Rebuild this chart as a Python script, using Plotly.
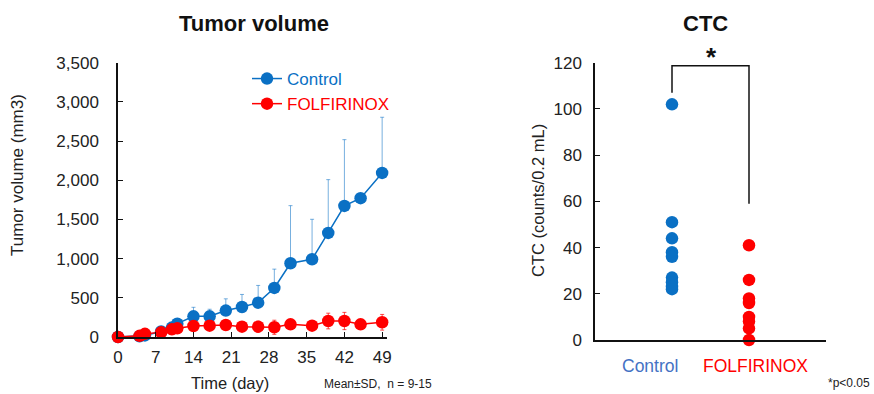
import plotly.graph_objects as go

# ---- Tumor volume data ----
days = [0, 4, 5, 8, 10, 11, 14, 17, 20, 23, 26, 29, 32, 36, 39, 42, 45, 49]
control_vol = [0, 10, 20, 70, 120, 170, 264, 264, 337, 383, 438, 626, 941, 992, 1328, 1673, 1771, 2094]
control_sd = [0, 5, 10, 20, 30, 40, 115, 90, 150, 160, 220, 240, 735, 510, 680, 845, 30, 710]
folf_vol = [0, 15, 40, 60, 98, 111, 140, 145, 153, 132, 132, 124, 162, 145, 204, 204, 162, 188]
folf_sd = [0, 10, 15, 20, 20, 25, 35, 30, 35, 30, 70, 90, 60, 30, 100, 110, 30, 100]
x_ticks = [0, 7, 14, 21, 28, 35, 42, 49]
y_ticks_vol = [0, 500, 1000, 1500, 2000, 2500, 3000, 3500]

# ---- CTC data ----
groups = ["Control", "FOLFIRINOX"]
ctc_control = [102, 51, 44, 38, 36, 27, 25, 23, 22]
ctc_folf = [41, 26, 18, 16, 10, 8, 5, 0]
y_ticks_ctc = [0, 20, 40, 60, 80, 100, 120]

BLUE = "#0A70C4"
RED = "#FF0000"
FONT = "Arial, Liberation Sans, sans-serif"
W, H = 874, 394

fig = go.Figure()

fig.add_trace(go.Scatter(
    x=days, y=control_vol, mode="lines+markers",
    name="<span style='color:%s'>Control</span>" % BLUE,
    line=dict(color=BLUE, width=1.5),
    marker=dict(color=BLUE, size=12.5),
    error_y=dict(type="data", array=control_sd, arrayminus=[0] * len(days),
                 color="rgba(10,112,196,0.55)", thickness=1, width=2),
    cliponaxis=False, xaxis="x", yaxis="y",
))
fig.add_trace(go.Scatter(
    x=days, y=folf_vol, mode="lines+markers",
    name="<span style='color:%s'>FOLFIRINOX</span>" % RED,
    line=dict(color=RED, width=1.5),
    marker=dict(color=RED, size=12.5),
    error_y=dict(type="data", array=folf_sd, color="rgba(255,0,0,0.7)",
                 thickness=1, width=2),
    cliponaxis=False, xaxis="x", yaxis="y",
))

fig.add_trace(go.Scatter(
    x=[groups[0]] * len(ctc_control), y=ctc_control, mode="markers",
    marker=dict(color=BLUE, size=12.5), showlegend=False, cliponaxis=False,
    xaxis="x2", yaxis="y2",
))
fig.add_trace(go.Scatter(
    x=[groups[1]] * len(ctc_folf), y=ctc_folf, mode="markers",
    marker=dict(color=RED, size=12.5), showlegend=False, cliponaxis=False,
    xaxis="x2", yaxis="y2",
))
# significance bracket
fig.add_trace(go.Scatter(
    x=[groups[0], groups[0], groups[1], groups[1]], y=[107, 118.7, 118.7, 59],
    mode="lines", line=dict(color="#111", width=1.5), showlegend=False,
    hoverinfo="skip", cliponaxis=False, xaxis="x2", yaxis="y2",
))

axis_common = dict(showline=True, linecolor="#111", linewidth=1.5, automargin=False,
                   ticklen=5, tickcolor="#111", showgrid=False, zeroline=False,
                   tickfont=dict(family=FONT, size=17, color="#222"))

fig.update_layout(
    width=W, height=H, margin=dict(l=0, r=0, t=0, b=0, autoexpand=False),
    paper_bgcolor="white", plot_bgcolor="white",
    font=dict(family=FONT, color="#222"),
    xaxis=dict(domain=[118 / W, 387 / W], range=[0, 49.9], tickvals=x_ticks,
               ticks="inside", ticklabelstandoff=4, anchor="y", **axis_common),
    yaxis=dict(domain=[1 - 337 / H, 1 - 62.7 / H], range=[0, 3500], tickvals=y_ticks_vol,
               tickformat=",", ticks="inside", ticklabelstandoff=14, anchor="x", **axis_common),
    xaxis2=dict(domain=[595 / W, 826 / W], range=[-1, 2], type="category",
                categoryorder="array", categoryarray=groups, showticklabels=False,
                ticks="", anchor="y2", **axis_common),
    yaxis2=dict(domain=[1 - 340 / H, 1 - 62.7 / H], range=[0, 120], tickvals=y_ticks_ctc,
                ticks="inside", ticklabelstandoff=8, anchor="x2", **axis_common),
    legend=dict(x=247 / W, y=1 - 61 / H, xanchor="left", yanchor="top",
                font=dict(family=FONT, size=17), bgcolor="rgba(0,0,0,0)",
                tracegroupgap=0, itemwidth=30),
    showlegend=True,
)

ann = [
    dict(text="<b>Tumor volume</b>", x=254.5, y=23, size=22, color="#111", anchor="center"),
    dict(text="<b>CTC</b>", x=705, y=23, size=22, color="#111", anchor="center"),
    dict(text="Time (day)", x=230, y=383, size=16.5, color="#222", anchor="center"),
    dict(text="Mean\u00b1SD,  n = 9-15", x=322, y=384, size=12, color="#222", anchor="left"),
    dict(text="<b>*</b>", x=711, y=57, size=26, color="#111", anchor="center"),
    dict(text="Control", x=650, y=366, size=17.5, color="#4472C4", anchor="center"),
    dict(text="FOLFIRINOX", x=755, y=366, size=17.5, color=RED, anchor="center"),
    dict(text="*p<0.05", x=872, y=383, size=12, color="#222", anchor="right"),
]
annotations = []
for a in ann:
    annotations.append(dict(text=a["text"], x=a["x"] / W, y=1 - a["y"] / H,
                            xref="paper", yref="paper", showarrow=False,
                            xanchor=a["anchor"], yanchor="middle",
                            font=dict(family=FONT, size=a["size"], color=a["color"])))
annotations.append(dict(text="Tumor volume (mm3)", x=18 / W, y=1 - 175 / H,
                        xref="paper", yref="paper", showarrow=False, textangle=-90,
                        xanchor="center", yanchor="middle",
                        font=dict(family=FONT, size=17, color="#222")))
annotations.append(dict(text="CTC (counts/0.2 mL)", x=538 / W, y=1 - 201 / H,
                        xref="paper", yref="paper", showarrow=False, textangle=-90,
                        xanchor="center", yanchor="middle",
                        font=dict(family=FONT, size=16.5, color="#222")))
fig.update_layout(annotations=annotations)

fig.write_html("out.html", config={"displayModeBar": False},
               post_script="document.body.style.margin='0';document.body.style.overflow='hidden';")
